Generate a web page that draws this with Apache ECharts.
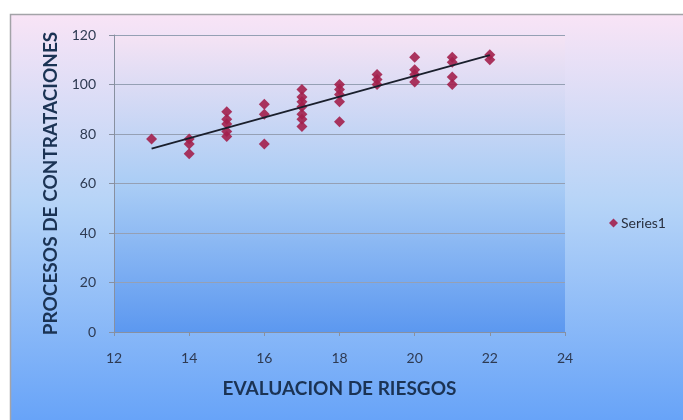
<!DOCTYPE html>
<html>
<head>
<meta charset="utf-8">
<script src="https://cdn.jsdelivr.net/npm/echarts@6/dist/echarts.min.js"></script>
<style>
  html, body { margin: 0; padding: 0; background: #ffffff; }
  #chart { width: 683px; height: 420px; }
</style>
</head>
<body>
<div id="chart"></div>
<script>
// Risk evaluation score (x) vs. hiring processes score (y)
const evaluacion = [13, 14, 14, 14, 15, 15, 15, 15, 15, 16, 16, 16,
                    17, 17, 17, 17, 17, 17, 17, 18, 18, 18, 18, 18,
                    19, 19, 19, 20, 20, 20, 20, 21, 21, 21, 21, 22, 22];
const procesos   = [78, 78, 76, 72, 89, 86, 84, 81, 79, 92, 88, 76,
                    98, 95, 93, 91, 88, 86, 83, 100, 98, 96, 93, 85,
                    104, 102, 100, 111, 106, 104, 101, 111, 109, 103, 100, 112, 110];
const xTicks = [12, 14, 16, 18, 20, 22, 24];
const yTicks = [0, 20, 40, 60, 80, 100, 120];
const seriesName = 'Series1';
const xTitle = 'EVALUACION DE RIESGOS';
const yTitle = 'PROCESOS DE CONTRATACIONES';

const points = evaluacion.map((x, i) => [x, procesos[i]]);

// Least-squares linear trendline over the observed range
function linearTrend(xs, ys) {
  const n = xs.length;
  const mx = xs.reduce((a, b) => a + b, 0) / n;
  const my = ys.reduce((a, b) => a + b, 0) / n;
  let sxy = 0, sxx = 0;
  for (let i = 0; i < n; i++) {
    sxy += (xs[i] - mx) * (ys[i] - my);
    sxx += (xs[i] - mx) * (xs[i] - mx);
  }
  const slope = sxy / sxx;
  const intercept = my - slope * mx;
  const x0 = Math.min(...xs), x1 = Math.max(...xs);
  return [[x0, intercept + slope * x0], [x1, intercept + slope * x1]];
}
const trend = linearTrend(evaluacion, procesos);

const font = 'Lato, "Open Sans", sans-serif';
const chart = echarts.init(document.getElementById('chart'));

chart.setOption({
  animation: false,
  backgroundColor: '#ffffff',
  graphic: [{
    type: 'rect',
    z: -10,
    silent: true,
    shape: { x: 10.5, y: 14.5, width: 700, height: 420 },
    style: {
      fill: new echarts.graphic.LinearGradient(0, 0, 0, 1, [
        { offset: 0, color: '#f9e4f6' },
        { offset: 0.45, color: '#b6d4f7' },
        { offset: 1, color: '#62a0f8' }
      ]),
      stroke: '#a3a3a8',
      lineWidth: 1.5
    }
  }],
  grid: {
    left: 114, right: 118, top: 35, bottom: 88,
    show: true,
    borderWidth: 0,
    backgroundColor: new echarts.graphic.LinearGradient(0, 0, 0, 1, [
      { offset: 0, color: '#f5e3f4' },
      { offset: 0.5, color: '#aacdf5' },
      { offset: 1, color: '#5c98f0' }
    ])
  },
  legend: {
    left: 604,
    top: 211,
    orient: 'vertical',
    icon: 'diamond',
    itemWidth: 9,
    itemHeight: 9,
    itemGap: 4,
    data: [seriesName],
    textStyle: { fontFamily: font, fontSize: 14, color: '#2a3140', padding: [0, 0, 0, -2] }
  },
  xAxis: {
    type: 'value',
    min: xTicks[0],
    max: xTicks[xTicks.length - 1],
    interval: 2,
    name: xTitle,
    nameLocation: 'middle',
    nameGap: 47,
    nameTextStyle: { fontFamily: font, fontSize: 19, fontWeight: 'bold', color: '#1b3354' },
    axisLine: { show: true, lineStyle: { color: '#8890a0', width: 1 } },
    axisTick: { show: true, length: 4, lineStyle: { color: '#8890a0' } },
    axisLabel: { fontFamily: font, fontSize: 14, color: '#2e3a52', margin: 19 },
    splitLine: { show: false }
  },
  yAxis: {
    type: 'value',
    min: yTicks[0],
    max: yTicks[yTicks.length - 1],
    interval: 20,
    name: yTitle,
    nameLocation: 'middle',
    nameGap: 54,
    nameTextStyle: { fontFamily: font, fontSize: 19, fontWeight: 'bold', color: '#1b3354' },
    axisLine: { show: true, lineStyle: { color: '#8890a0', width: 1 } },
    axisTick: { show: true, length: 5, lineStyle: { color: '#8890a0' } },
    axisLabel: { fontFamily: font, fontSize: 14, color: '#2e3a52', margin: 18 },
    splitLine: { show: true, lineStyle: { color: '#95a0b4', width: 1 } }
  },
  series: [
    {
      name: seriesName,
      type: 'scatter',
      symbol: 'diamond',
      symbolSize: 11,
      itemStyle: { color: '#a3204c', opacity: 0.9 },
      data: points,
      z: 3
    },
    {
      name: 'trend',
      type: 'line',
      data: trend,
      symbol: 'none',
      lineStyle: { color: '#1a1f2c', width: 1.8 },
      z: 4,
      silent: true
    }
  ]
});
</script>
</body>
</html>
